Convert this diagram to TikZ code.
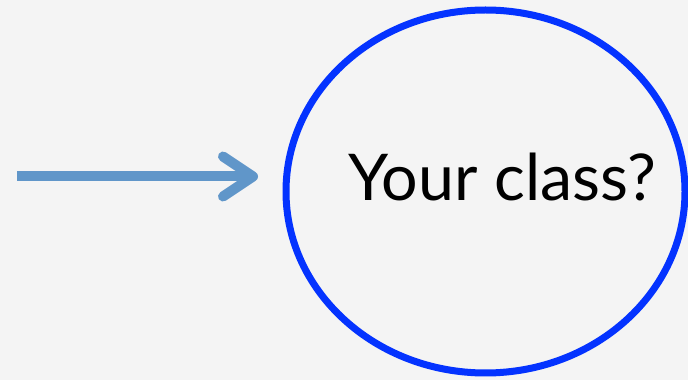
\documentclass[tikz,border=0pt]{standalone}
\usepackage{fontspec}
\setmainfont{Lato}
\usetikzlibrary{arrows.meta,shapes.geometric}
\definecolor{paper}{HTML}{F4F4F4}
\definecolor{flowblue}{HTML}{6096C9}
\definecolor{ringblue}{HTML}{0433FF}
\tikzset{
  ring/.style={ellipse, draw=ringblue, line width=7pt, inner sep=0pt,
    minimum width=399pt, minimum height=363pt},
  flow/.style={draw=flowblue, line width=10pt,
    -{Straight Barb[length=30pt,width=40pt,round]}},
  question/.style={font=\fontsize{64.5}{64.5}\selectfont, anchor=base}
}
\begin{document}
\begin{tikzpicture}[x=1pt,y=1pt]
\fill[paper] (0,0) rectangle (688,380);
\useasboundingbox (0,0) rectangle (688,380);
\node[ring] (cls) at (485.5,188.5) {};
\node[question] (label) at (502.5,179.3) {Your class?};
\coordinate (start) at (17,203.5);
\draw[flow, shorten >=24.5pt] (start) -- (start -| cls.west);
\end{tikzpicture}
\end{document}
